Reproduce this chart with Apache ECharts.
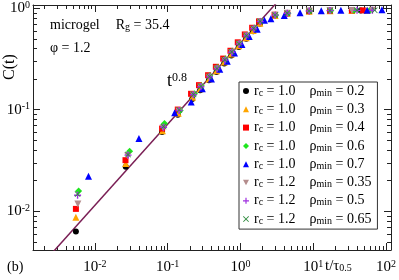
<!DOCTYPE html>
<html><head><meta charset="utf-8">
<script src="https://cdn.jsdelivr.net/npm/echarts@6/dist/echarts.min.js"></script>
<style>html,body{margin:0;padding:0;background:#fff}#c{width:399px;height:280px}</style>
</head><body><div id="c"></div>
<script>
// ---- data ----
const rcLabels  = ['1.0','1.0','1.0','1.0','1.0','1.2','1.2','1.2'];
const rhoLabels = ['0.2','0.3','0.4','0.6','0.7','0.35','0.5','0.65'];
const seriesNames = rcLabels.map((r,i)=>'rc=' + r + ' rhomin=' + rhoLabels[i]);

const s_rc10_rho02 = [[0.0055,0.0063],[0.0266,0.0273],[0.084,0.060],[0.138,0.089],[0.218,0.127],[0.28,0.155],[0.37,0.194],[0.47,0.235],[0.6,0.285],[0.75,0.342],[0.95,0.413],[1.2,0.50],[1.5,0.59],[1.85,0.70],[3.0,0.84],[4.4,0.885],[8.8,0.93],[17,0.94],[34,0.945],[45,0.947]];
const s_rc10_rho03 = [[0.0055,0.0087],[0.0266,0.0294],[0.085,0.062],[0.14,0.092],[0.22,0.132],[0.28,0.160],[0.37,0.200],[0.47,0.242],[0.6,0.294],[0.75,0.352],[0.95,0.425],[1.2,0.51],[1.5,0.60],[1.85,0.71],[3.0,0.845],[4.4,0.888],[8.8,0.932],[17,0.942],[34,0.947],[55,0.95]];
const s_rc10_rho04 = [[0.0055,0.0105],[0.0264,0.0317],[0.084,0.065],[0.138,0.100],[0.21,0.143],[0.27,0.174],[0.36,0.218],[0.46,0.264],[0.58,0.318],[0.73,0.38],[0.92,0.46],[1.15,0.55],[1.45,0.64],[1.8,0.74],[2.95,0.86],[4.4,0.89],[8.8,0.935],[17,0.945],[34,0.95],[48,0.95]];
const s_rc10_rho06 = [[0.0060,0.0158],[0.0301,0.0389],[0.0906,0.0728],[0.149,0.098],[0.234,0.143],[0.29,0.172],[0.38,0.215],[0.48,0.26],[0.62,0.315],[0.77,0.375],[0.97,0.45],[1.22,0.54],[1.55,0.635],[1.9,0.74],[3.05,0.855],[4.5,0.89],[9.0,0.935],[17.5,0.945],[36,0.95],[60,0.95]];
const s_rc10_rho07 = [[0.0082,0.022],[0.0404,0.052],[0.125,0.093],[0.211,0.119],[0.30,0.160],[0.40,0.20],[0.52,0.249],[0.66,0.30],[0.83,0.362],[1.05,0.437],[1.32,0.525],[1.7,0.62],[2.14,0.757],[2.62,0.786],[4.0,0.845],[6.6,0.90],[12.9,0.94],[24,0.95],[55,0.955],[88,0.965]];
const s_rc12_rho035 = [[0.00585,0.0117],[0.0283,0.035],[0.087,0.066],[0.143,0.097],[0.225,0.139],[0.285,0.167],[0.375,0.208],[0.475,0.251],[0.61,0.305],[0.76,0.365],[0.96,0.44],[1.21,0.53],[1.52,0.62],[1.87,0.73],[3.0,0.85],[4.4,0.89],[8.8,0.935],[17,0.945],[34,0.948],[65,0.95]];
const s_rc12_rho05 = [[0.0058,0.0143],[0.0286,0.0356],[0.088,0.067],[0.144,0.098],[0.226,0.14],[0.286,0.168],[0.376,0.21],[0.476,0.252],[0.61,0.307],[0.76,0.367],[0.96,0.442],[1.21,0.532],[1.52,0.625],[1.87,0.735],[3.0,0.852],[4.4,0.89],[8.8,0.935],[17,0.945],[40,0.95],[65,0.95]];
const s_rc12_rho065 = [[0.0058,0.0147],[0.0286,0.036],[0.088,0.068],[0.145,0.099],[0.227,0.141],[0.287,0.169],[0.377,0.211],[0.477,0.254],[0.61,0.309],[0.76,0.37],[0.96,0.445],[1.21,0.535],[1.52,0.63],[1.87,0.74],[3.0,0.855],[4.4,0.892],[8.8,0.937],[17,0.946],[40,0.95],[70,0.952]];
const seriesData = [s_rc10_rho02,s_rc10_rho03,s_rc10_rho04,s_rc10_rho06,s_rc10_rho07,s_rc12_rho035,s_rc12_rho05,s_rc12_rho065];

// power law C = A t^0.8
const powerLawA = 0.452;
const powerLawExp = 0.8;
const powerLawX = [0.0025, 3.5];

// axis ranges
const xMin = 0.001416, xMax = 117.2;
const yMin = 0.00413, yMax = 1.073;

// ---- styles ----
const colors = ['#000000','#ffa500','#ff0000','#1ee61e','#0000ff','#b48c8c','#a030e0','#2e8b3e'];
const symbols = ['circle','triangle','rect','diamond','triangle','path://M0,0H10L5,9Z','path://M4,0H6V4H10V6H6V10H4V6H0V4H4Z','path://M1,0L5,4L9,0L10,1L6,5L10,9L9,10L5,6L1,10L0,9L4,5L0,1Z'];
const sizes = [6,7,6,7,7,7,7,6];
const FONT = '"Liberation Serif","DejaVu Serif",serif';
const lineColor = '#7a1f55';

// minor tick positions (axis decoration)
const minorX = [], minorY = [];
for (let d=-3; d<=2; d++) for (let k=2; k<=9; k++) {
  const v = k*Math.pow(10,d);
  if (v>xMin && v<xMax) minorX.push(v);
  if (v>yMin && v<yMax) minorY.push(v);
}
const minorData = minorX.map(v=>[v, yMin, 0]).concat(minorY.map(v=>[xMin, v, 1]));

function powLabel(v){
  const l = Math.log10(v), e = Math.round(l);
  if (Math.abs(l-e) > 1e-6) return '';
  return '{n|10}{s|' + e + '}';
}
const labRich = { n:{fontFamily:FONT,fontSize:15,color:'#000',lineHeight:16},
                  s:{fontFamily:FONT,fontSize:10,color:'#000',lineHeight:6,verticalAlign:'top'} };

const chart = echarts.init(document.getElementById('c'), null, {renderer:'canvas'});
const axisLineStyle = {color:'#222', width:1};

const series = seriesData.map((d,i)=>({
  name: seriesNames[i], type:'scatter', data:d, symbol:symbols[i], symbolSize:sizes[i],
  itemStyle:{color:colors[i], opacity:1}, z: 3+i, silent:true
}));
series.unshift({
  name:'powerlaw', type:'line', data: powerLawX.map(x=>[x, powerLawA*Math.pow(x,powerLawExp)]),
  symbol:'none', lineStyle:{color:lineColor, width:1.5}, z:2, clip:true, silent:true
});
series.push({
  name:'minor', type:'custom', data:minorData, z:1, silent:true, clip:false,
  renderItem(params, api){
    const cs = params.coordSys;
    const kind = api.value(2);
    const st = {stroke:'#222', lineWidth:1};
    if (kind===0){
      const px = Math.round(api.coord([api.value(0), yMin])[0]) + 0.5;
      const b = cs.y + cs.height, t = cs.y;
      return {type:'group', children:[
        {type:'line', shape:{x1:px,y1:b,x2:px,y2:b-4}, style:st},
        {type:'line', shape:{x1:px,y1:t,x2:px,y2:t+4}, style:st}]};
    } else {
      const py = Math.round(api.coord([xMin, api.value(1)])[1]) + 0.5;
      const l = cs.x, r = cs.x + cs.width;
      return {type:'group', children:[
        {type:'line', shape:{x1:l,y1:py,x2:l+4,y2:py}, style:st},
        {type:'line', shape:{x1:r,y1:py,x2:r-4,y2:py}, style:st}]};
    }
  }
});

const legendRich = {
  t:{fontFamily:FONT,fontSize:14,color:'#000',lineHeight:14},
  s:{fontFamily:FONT,fontSize:10,color:'#000',lineHeight:4,verticalAlign:'bottom'},
  g:{width:14}
};

chart.setOption({
  animation:false,
  backgroundColor:'#fff',
  grid:{left:33, right:7, top:5, bottom:30, containLabel:false},
  xAxis:[
    {type:'log', min:xMin, max:xMax, position:'bottom',
     axisLine:{show:true, lineStyle:axisLineStyle, onZero:false},
     axisTick:{show:true, inside:true, length:7, lineStyle:axisLineStyle},
     splitLine:{show:false}, minorTick:{show:false},
     axisLabel:{show:true, formatter:powLabel, rich:labRich, margin:9, showMinLabel:false, showMaxLabel:false}},
    {type:'log', min:xMin, max:xMax, position:'top',
     axisLine:{show:true, lineStyle:axisLineStyle, onZero:false},
     axisTick:{show:true, inside:true, length:7, lineStyle:axisLineStyle},
     splitLine:{show:false}, axisLabel:{show:false}}
  ],
  yAxis:[
    {type:'log', min:yMin, max:yMax, position:'left',
     axisLine:{show:true, lineStyle:axisLineStyle, onZero:false},
     axisTick:{show:true, inside:true, length:7, lineStyle:axisLineStyle},
     splitLine:{show:false},
     axisLabel:{show:true, formatter:powLabel, rich:labRich, margin:3, showMinLabel:false, showMaxLabel:false}},
    {type:'log', min:yMin, max:yMax, position:'right',
     axisLine:{show:true, lineStyle:axisLineStyle, onZero:false},
     axisTick:{show:true, inside:true, length:7, lineStyle:axisLineStyle},
     splitLine:{show:false}, axisLabel:{show:false}}
  ],
  legend:{
    data: seriesNames, orient:'vertical', left:239, top:82,
    itemWidth:6, itemHeight:6, itemGap:4.3,
    padding:[2,6,3,4],
    backgroundColor:'#fff', borderColor:'#333', borderWidth:1, borderRadius:0,
    selectedMode:false,
    formatter(name){
      const i = seriesNames.indexOf(name);
      return '{t|r}{s|c}{t| = ' + rcLabels[i] + '}{g|}{t|ρ}{s|min}{t| = ' + rhoLabels[i] + '}';
    },
    textStyle:{rich:legendRich, fontFamily:FONT, fontSize:14}
  },
  graphic:[
    {type:'text', x:50, y:25, style:{text:'{a|microgel}{g|}{a|R}{b|g}{a| = 35.4}', verticalAlign:'middle',
      rich:{a:{fontFamily:FONT,fontSize:14,color:'#000',lineHeight:14}, b:{fontFamily:FONT,fontSize:10,color:'#000',lineHeight:4,verticalAlign:'bottom'}, g:{width:16}}}},
    {type:'text', x:50, y:48, style:{text:'φ = 1.2', font:'14px ' + FONT, fill:'#000', verticalAlign:'middle'}},
    {type:'text', x:167, y:81, style:{text:'{a|t}{b|0.8}', verticalAlign:'middle',
      rich:{a:{fontFamily:FONT,fontSize:18,color:lineColor,lineHeight:18}, b:{fontFamily:FONT,fontSize:12,color:lineColor,lineHeight:6,verticalAlign:'top'}}}},
    {type:'text', x:10, y:67, rotation:Math.PI/2, style:{text:'C(t)', font:'16px ' + FONT, fill:'#000', align:'center', verticalAlign:'middle'}},
    {type:'text', x:325, y:266, style:{text:'{a|t/τ}{b|0.5}', verticalAlign:'middle',
      rich:{a:{fontFamily:FONT,fontSize:15,color:'#000',lineHeight:15}, b:{fontFamily:FONT,fontSize:10,color:'#000',lineHeight:4,verticalAlign:'bottom'}}}},
    {type:'text', x:7, y:267, style:{text:'(b)', font:'14px ' + FONT, fill:'#000', verticalAlign:'middle'}}
  ],
  series: series
});
</script></body></html>
